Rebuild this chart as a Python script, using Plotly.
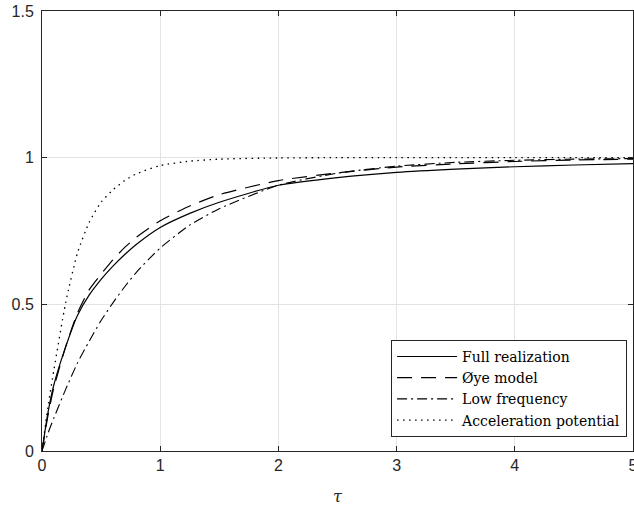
import plotly.graph_objects as go

tau = [0, 0.05, 0.1, 0.2, 0.3, 0.4, 0.5, 0.6, 0.7, 0.8, 1.0, 1.25, 1.5, 2.0, 2.5, 3.0, 3.5, 4.0, 4.5, 5.0]

full_realization = [0, 0.13, 0.225, 0.355, 0.462, 0.532, 0.585, 0.63, 0.67, 0.705, 0.762, 0.81, 0.848, 0.906, 0.932, 0.950, 0.961, 0.969, 0.975, 0.980]
oye_model = [0, 0.12, 0.215, 0.355, 0.47, 0.55, 0.603, 0.652, 0.694, 0.729, 0.785, 0.835, 0.874, 0.922, 0.948, 0.968, 0.979, 0.987, 0.992, 0.995]
low_frequency = [0, 0.06, 0.112, 0.21, 0.3, 0.375, 0.445, 0.505, 0.56, 0.61, 0.692, 0.77, 0.826, 0.906, 0.947, 0.971, 0.984, 0.991, 0.995, 0.997]
acceleration_potential = [0, 0.15, 0.275, 0.505, 0.675, 0.78, 0.848, 0.89, 0.922, 0.945, 0.973, 0.988, 0.995, 0.999, 1.0, 1.0, 1.0, 1.0, 1.0, 1.0]

series = [
    ("Full realization", full_realization, "solid", 1.2),
    ("Øye model", oye_model, "15px,9px", 1.2),
    ("Low frequency", low_frequency, "10px,4px,2px,4px", 1.1),
    ("Acceleration potential", acceleration_potential, "1.5px,4.5px", 1.3),
]

fig = go.Figure()
for name, vals, dash, w in series:
    fig.add_trace(go.Scatter(
        x=tau, y=vals, mode="lines", name=name,
        line=dict(color="black", width=w, dash=dash, shape="spline", smoothing=0.6),
    ))

axis_common = dict(
    showline=True, linecolor="#262626", linewidth=1, mirror="ticks",
    ticks="inside", ticklen=5, tickcolor="#262626",
    showgrid=True, gridcolor="#e3e3e3", gridwidth=1,
    zeroline=False, ticklabeloverflow="allow",
    tickfont=dict(family="Liberation Sans, Arial, sans-serif", size=16, color="#262626"),
)

fig.update_layout(
    width=634, height=506,
    margin=dict(l=42, r=1, t=11, b=55, autoexpand=False),
    paper_bgcolor="white", plot_bgcolor="white",
    xaxis=dict(range=[0, 5], tickvals=[0, 1, 2, 3, 4, 5], ticktext=["0", "1", "2", "3", "4", "5"],
               title=dict(text="<i>τ</i>", font=dict(family="DejaVu Serif, serif", size=16, color="#262626"), standoff=17),
               automargin=False, **axis_common),
    yaxis=dict(range=[0, 1.5], tickvals=[0, 0.5, 1, 1.5], ticktext=["0", "0.5", "1", "1.5"],
               automargin=False, ticklabelstandoff=4, **axis_common),
    legend=dict(
        x=0.99, y=0.032, xanchor="right", yanchor="bottom",
        bgcolor="white", bordercolor="#262626", borderwidth=1,
        font=dict(family="DejaVu Serif, Liberation Serif, serif", size=14, color="black"),
        tracegroupgap=0, itemwidth=60,
    ),
    showlegend=True,
)

fig.write_html("out.html", config={"displayModeBar": False},
               post_script="document.body.style.margin='0';document.body.style.overflow='hidden';")
